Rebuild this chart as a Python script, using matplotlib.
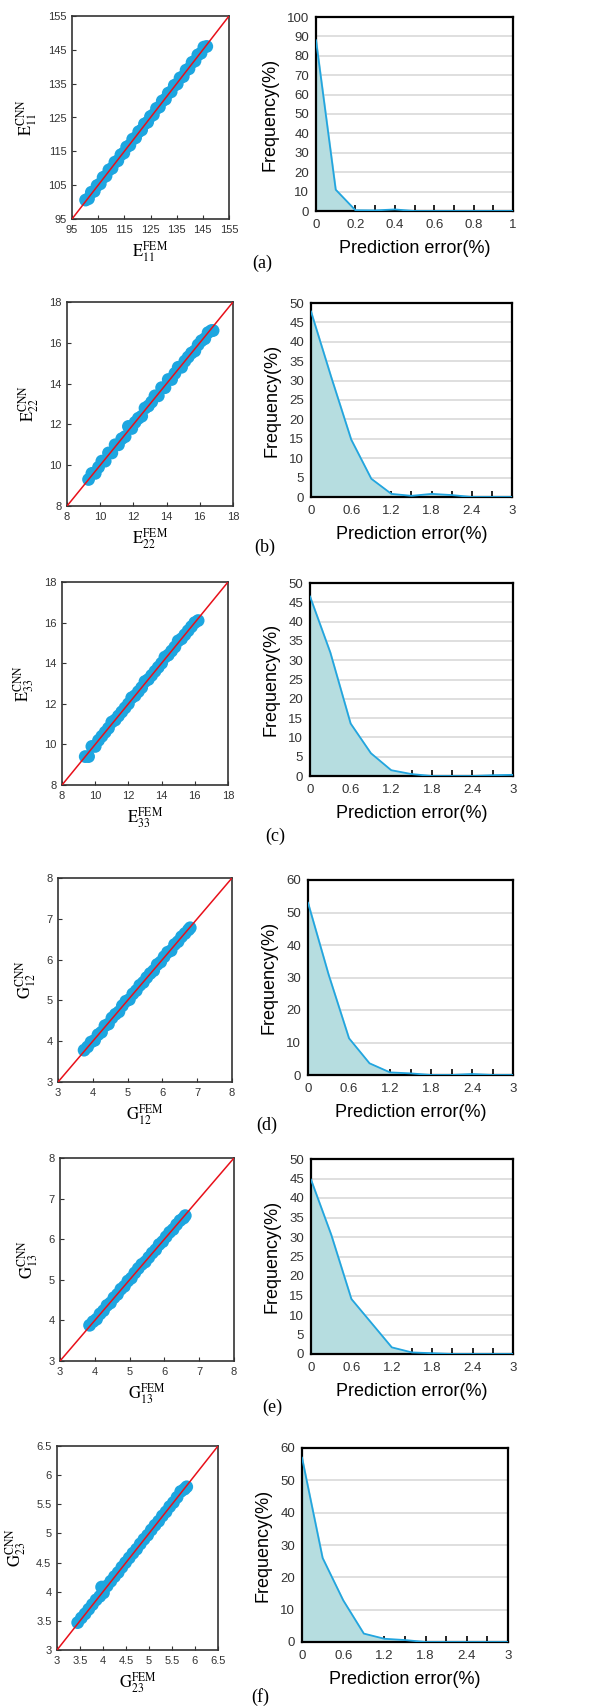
import matplotlib
matplotlib.use('Agg')
import matplotlib.pyplot as plt

plt.rcParams['font.family'] = ['Liberation Sans', 'DejaVu Sans']
plt.rcParams['mathtext.fontset'] = 'stix'

# ---- scatter data (FEM vs CNN) ----
fem_a = [100.2, 101.3, 102.4, 103.5, 104.6, 105.8, 106.9, 108.0, 109.1, 110.3, 111.4, 112.5, 113.7, 114.8,
         115.9, 117.1, 118.2, 119.3, 120.5, 121.6, 122.7, 123.9, 125.0, 126.1, 127.3, 128.4, 129.5, 130.7,
         131.8, 132.9, 134.1, 135.2, 136.3, 137.5, 138.6, 139.7, 140.9, 142.0, 143.1, 144.3, 145.4, 146.5]
cnn_a = [100.6, 101.0, 102.9, 103.2, 104.9, 105.4, 107.3, 107.7, 109.5, 110.0, 111.8, 112.2, 114.0, 114.5,
         116.3, 116.8, 118.6, 119.0, 120.8, 121.3, 123.1, 123.6, 125.3, 125.8, 127.7, 128.1, 129.9, 130.4,
         132.2, 132.6, 134.5, 134.9, 136.7, 137.1, 139.0, 139.4, 141.3, 141.7, 143.5, 144.0, 145.8, 146.0]

fem_b = [9.3, 9.5, 9.7, 9.9, 10.1, 10.3, 10.5, 10.7, 10.9, 11.1, 11.3, 11.5, 11.7, 11.9, 12.1, 12.3, 12.5,
         12.7, 12.9, 13.1, 13.3, 13.5, 13.7, 13.9, 14.1, 14.3, 14.5, 14.7, 14.9, 15.1, 15.3, 15.5, 15.7,
         15.9, 16.1, 16.3, 16.5, 16.7, 16.8]
cnn_b = [9.3, 9.6, 9.6, 9.9, 10.2, 10.2, 10.6, 10.6, 11.0, 11.0, 11.3, 11.4, 11.9, 11.8, 12.1, 12.3, 12.4,
         12.8, 12.9, 13.1, 13.4, 13.4, 13.8, 13.8, 14.2, 14.2, 14.5, 14.8, 14.8, 15.1, 15.3, 15.5, 15.6,
         15.9, 16.1, 16.2, 16.5, 16.6, 16.6]

fem_c = [9.4, 9.6, 9.8, 10.0, 10.2, 10.4, 10.6, 10.8, 11.0, 11.2, 11.4, 11.6, 11.8, 12.0, 12.2, 12.4, 12.6,
         12.8, 13.0, 13.2, 13.4, 13.6, 13.8, 14.0, 14.2, 14.4, 14.6, 14.8, 15.0, 15.2, 15.4, 15.6, 15.8,
         16.0, 16.2]
cnn_c = [9.4, 9.4, 9.9, 9.9, 10.2, 10.4, 10.6, 10.8, 11.1, 11.2, 11.4, 11.6, 11.8, 12.0, 12.3, 12.4, 12.6,
         12.8, 13.1, 13.2, 13.4, 13.6, 13.8, 14.0, 14.3, 14.4, 14.6, 14.8, 15.1, 15.2, 15.4, 15.6, 15.8,
         16.0, 16.1]

fem_d = [3.75, 3.85, 3.95, 4.05, 4.15, 4.25, 4.35, 4.45, 4.55, 4.65, 4.75, 4.85, 4.95, 5.05, 5.15, 5.25,
         5.35, 5.45, 5.55, 5.65, 5.75, 5.85, 5.95, 6.05, 6.15, 6.25, 6.35, 6.45, 6.55, 6.65, 6.75, 6.8]
cnn_d = [3.78, 3.86, 3.98, 4.02, 4.16, 4.22, 4.38, 4.42, 4.57, 4.66, 4.72, 4.87, 4.98, 5.02, 5.16, 5.24,
         5.37, 5.44, 5.56, 5.66, 5.73, 5.88, 5.94, 6.07, 6.18, 6.22, 6.37, 6.44, 6.56, 6.64, 6.73, 6.78]

fem_e = [3.85, 3.95, 4.05, 4.15, 4.25, 4.35, 4.45, 4.55, 4.65, 4.75, 4.85, 4.95, 5.05, 5.15, 5.25, 5.35,
         5.45, 5.55, 5.65, 5.75, 5.85, 5.95, 6.05, 6.15, 6.25, 6.35, 6.45, 6.55, 6.6]
cnn_e = [3.88, 3.97, 4.03, 4.16, 4.24, 4.37, 4.43, 4.56, 4.64, 4.77, 4.84, 4.97, 5.04, 5.17, 5.28, 5.38,
         5.44, 5.55, 5.66, 5.74, 5.87, 5.94, 6.06, 6.17, 6.24, 6.36, 6.46, 6.52, 6.58]

fem_f = [3.45, 3.53, 3.61, 3.69, 3.77, 3.85, 3.93, 3.97, 4.01, 4.09, 4.17, 4.25, 4.33, 4.41, 4.49, 4.57,
         4.65, 4.73, 4.81, 4.89, 4.97, 5.05, 5.13, 5.21, 5.29, 5.37, 5.45, 5.53, 5.61, 5.69, 5.77, 5.82]
cnn_f = [3.47, 3.55, 3.62, 3.70, 3.78, 3.86, 3.92, 4.08, 3.98, 4.10, 4.18, 4.26, 4.33, 4.42, 4.50, 4.58,
         4.66, 4.73, 4.82, 4.90, 4.97, 5.06, 5.14, 5.21, 5.30, 5.37, 5.46, 5.53, 5.62, 5.72, 5.76, 5.80]

# ---- error distributions ----
err_a = [0, 0.1, 0.2, 0.3, 0.4, 0.5, 0.6, 0.7, 0.8, 0.9, 1.0]
freq_a = [88, 11, 0.4, 0.3, 0.8, 0, 0, 0, 0, 0, 0]
err_3 = [0, 0.3, 0.6, 0.9, 1.2, 1.5, 1.8, 2.1, 2.4, 2.7, 3.0]
freq_b = [47.8, 31, 14.8, 4.7, 0.8, 0.3, 0.8, 0.5, 0, 0, 0]
freq_c = [46.5, 32, 13.6, 5.9, 1.5, 0.5, 0, 0, 0, 0.2, 0.3]
freq_d = [53, 31, 11.3, 3.6, 0.8, 0.5, 0, 0, 0.3, 0, 0]
freq_e = [44.7, 30.6, 14.1, 7.9, 1.7, 0.4, 0.2, 0, 0, 0, 0]
freq_f = [57, 26, 12.9, 2.6, 1.0, 0.6, 0, 0, 0, 0, 0]

W, H = 614, 1707
fig = plt.figure(figsize=(W / 100, H / 100), dpi=100)


def rect(l, t, r, b):
    return [l / W, 1 - b / H, (r - l) / W, (b - t) / H]


def scatter_panel(box, x, y, lim, ticks, name, fmt='{:g}'):
    ax = fig.add_axes(rect(*box))
    ax.scatter(x, y, s=85, color='#1DA6E0', edgecolors='none', zorder=2)
    ax.plot(lim, lim, color='#E8101A', lw=1.1, zorder=3)
    ax.set_xlim(lim)
    ax.set_ylim(lim)
    ax.set_xticks(ticks)
    ax.set_yticks(ticks)
    ax.set_xticklabels([fmt.format(t) for t in ticks])
    ax.set_yticklabels([fmt.format(t) for t in ticks])
    ax.tick_params(direction='in', length=3, labelsize=8, colors='#333333', pad=4)
    for s in ax.spines.values():
        s.set_linewidth(1.2)
        s.set_color('#333333')
    ax.set_xlabel(r'$\mathrm{%s}_{%s}^{\mathrm{FEM}}$' % name, fontsize=12, labelpad=3)
    ax.set_ylabel(r'$\mathrm{%s}_{%s}^{\mathrm{CNN}}$' % name, fontsize=12, labelpad=6)
    return ax


def hist_panel(box, x, y, xmax, xstep, xlab_step, ymax, ystep):
    ax = fig.add_axes(rect(*box))
    ax.fill_between(x, y, 0, color='#B6DDE0', zorder=1)
    ax.plot(x, y, color='#22A5DF', lw=1.3, zorder=3)
    ax.set_xlim(0, xmax)
    ax.set_ylim(0, ymax)
    yt = [v * ystep for v in range(int(round(ymax / ystep)) + 1)]
    ax.set_yticks(yt)
    ax.yaxis.grid(True, color='#D9D9D9', lw=1.2, zorder=0)
    ax.set_axisbelow(True)
    n = int(round(xmax / xstep))
    xt = [i * xstep for i in range(n + 1)]
    ax.set_xticks(xt)
    every = int(round(xlab_step / xstep))
    ax.set_xticklabels(['{:g}'.format(round(v, 2)) if i % every == 0 else '' for i, v in enumerate(xt)])
    ax.tick_params(axis='x', direction='in', length=4, width=1.2, labelsize=9.5, pad=6,
                   colors='black', labelcolor='#333333')
    ax.tick_params(axis='y', length=0, labelsize=9.5, colors='#333333', pad=5)
    for s in ax.spines.values():
        s.set_linewidth(1.6)
        s.set_color('black')
    ax.set_xlabel('Prediction error(%)', fontsize=13, labelpad=6)
    ax.set_ylabel('Frequency(%)', fontsize=13, labelpad=6)
    return ax


scatter_panel((72, 16, 229, 219), fem_a, cnn_a, [95, 155], list(range(95, 156, 10)), ('E', '11'))
scatter_panel((67, 302, 233, 506), fem_b, cnn_b, [8, 18], list(range(8, 19, 2)), ('E', '22'))
scatter_panel((62, 582, 228, 785), fem_c, cnn_c, [8, 18], list(range(8, 19, 2)), ('E', '33'))
scatter_panel((58, 878, 232, 1082), fem_d, cnn_d, [3, 8], list(range(3, 9)), ('G', '12'))
scatter_panel((60, 1158, 234, 1361), fem_e, cnn_e, [3, 8], list(range(3, 9)), ('G', '13'))
scatter_panel((57, 1446, 218, 1650), fem_f, cnn_f, [3, 6.5], [3, 3.5, 4, 4.5, 5, 5.5, 6, 6.5], ('G', '23'))

hist_panel((316, 17, 513, 211), err_a, freq_a, 1.0, 0.1, 0.2, 100, 10)
hist_panel((311, 303, 512, 497), err_3, freq_b, 3.0, 0.3, 0.6, 50, 5)
hist_panel((310, 583, 513, 776), err_3, freq_c, 3.0, 0.3, 0.6, 50, 5)
hist_panel((308, 880, 513, 1075), err_3, freq_d, 3.0, 0.3, 0.6, 60, 10)
hist_panel((311, 1159, 513, 1354), err_3, freq_e, 3.0, 0.3, 0.6, 50, 5)
hist_panel((302, 1448, 508, 1642), err_3, freq_f, 3.0, 0.3, 0.6, 60, 10)

# panel letters
letters = ['(a)', '(b)', '(c)', '(d)', '(e)', '(f)']
letter_pos = [(262, 263), (265, 547), (275, 836), (267, 1125), (272, 1407), (260, 1697)]
for lab, (px, py) in zip(letters, letter_pos):
    fig.text(px / W, 1 - py / H, lab, ha='center', va='center', fontsize=13,
             family=['Liberation Serif', 'DejaVu Serif'])

fig.savefig('out.png', dpi=100)
